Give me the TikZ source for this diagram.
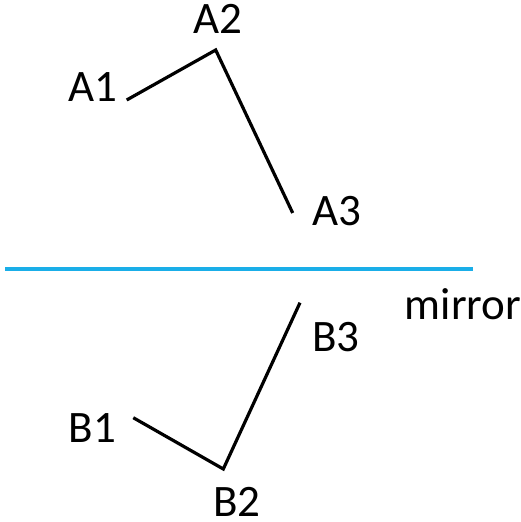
\documentclass[tikz,border=0pt]{standalone}
\usepackage{fontspec}
\setmainfont{Carlito}
\usepackage{xcolor}
\usetikzlibrary{positioning}
\definecolor{mirrorblue}{HTML}{1AAEE8}
\tikzset{
  lbl/.style={anchor=base,inner sep=0pt,font=\fontsize{45}{54}\selectfont},
  seg/.style={draw=black,line width=3.2pt},
  mirrorline/.style={draw=mirrorblue,line width=3.2pt}
}
\begin{document}
\begin{tikzpicture}[x=1pt,y=-1pt]
\useasboundingbox (0,0) rectangle (520,522);
% original shape
\coordinate (a1) at (126.7,100);
\coordinate (a2) at (215.7,50);
\coordinate (a3) at (292.7,213);
% reflected shape
\coordinate (b1) at (133.3,417.7);
\coordinate (b2) at (223.3,469);
\coordinate (b3) at (300,302.7);
% mirror
\coordinate (m1) at (5,269);
\coordinate (m2) at (473,269);
\node[lbl] (la1) at (92.5,101.7) {A1};
\node[lbl] (la2) at (218.3,33) {A2};
\node[lbl] (la3) at (336.7,225) {A3};
\node[lbl] (lb1) at (92.5,442) {B1};
\node[lbl] (lb2) at (237,516) {B2};
\node[lbl] (lb3) at (335.7,351.7) {B3};
\node[lbl] (lm) at (463,319.3) {mirror};
\draw[seg] (a1) -- (a2) -- (a3);
\draw[seg] (b1) -- (b2) -- (b3);
\draw[mirrorline] (m1) -- (m2);
\end{tikzpicture}
\end{document}
